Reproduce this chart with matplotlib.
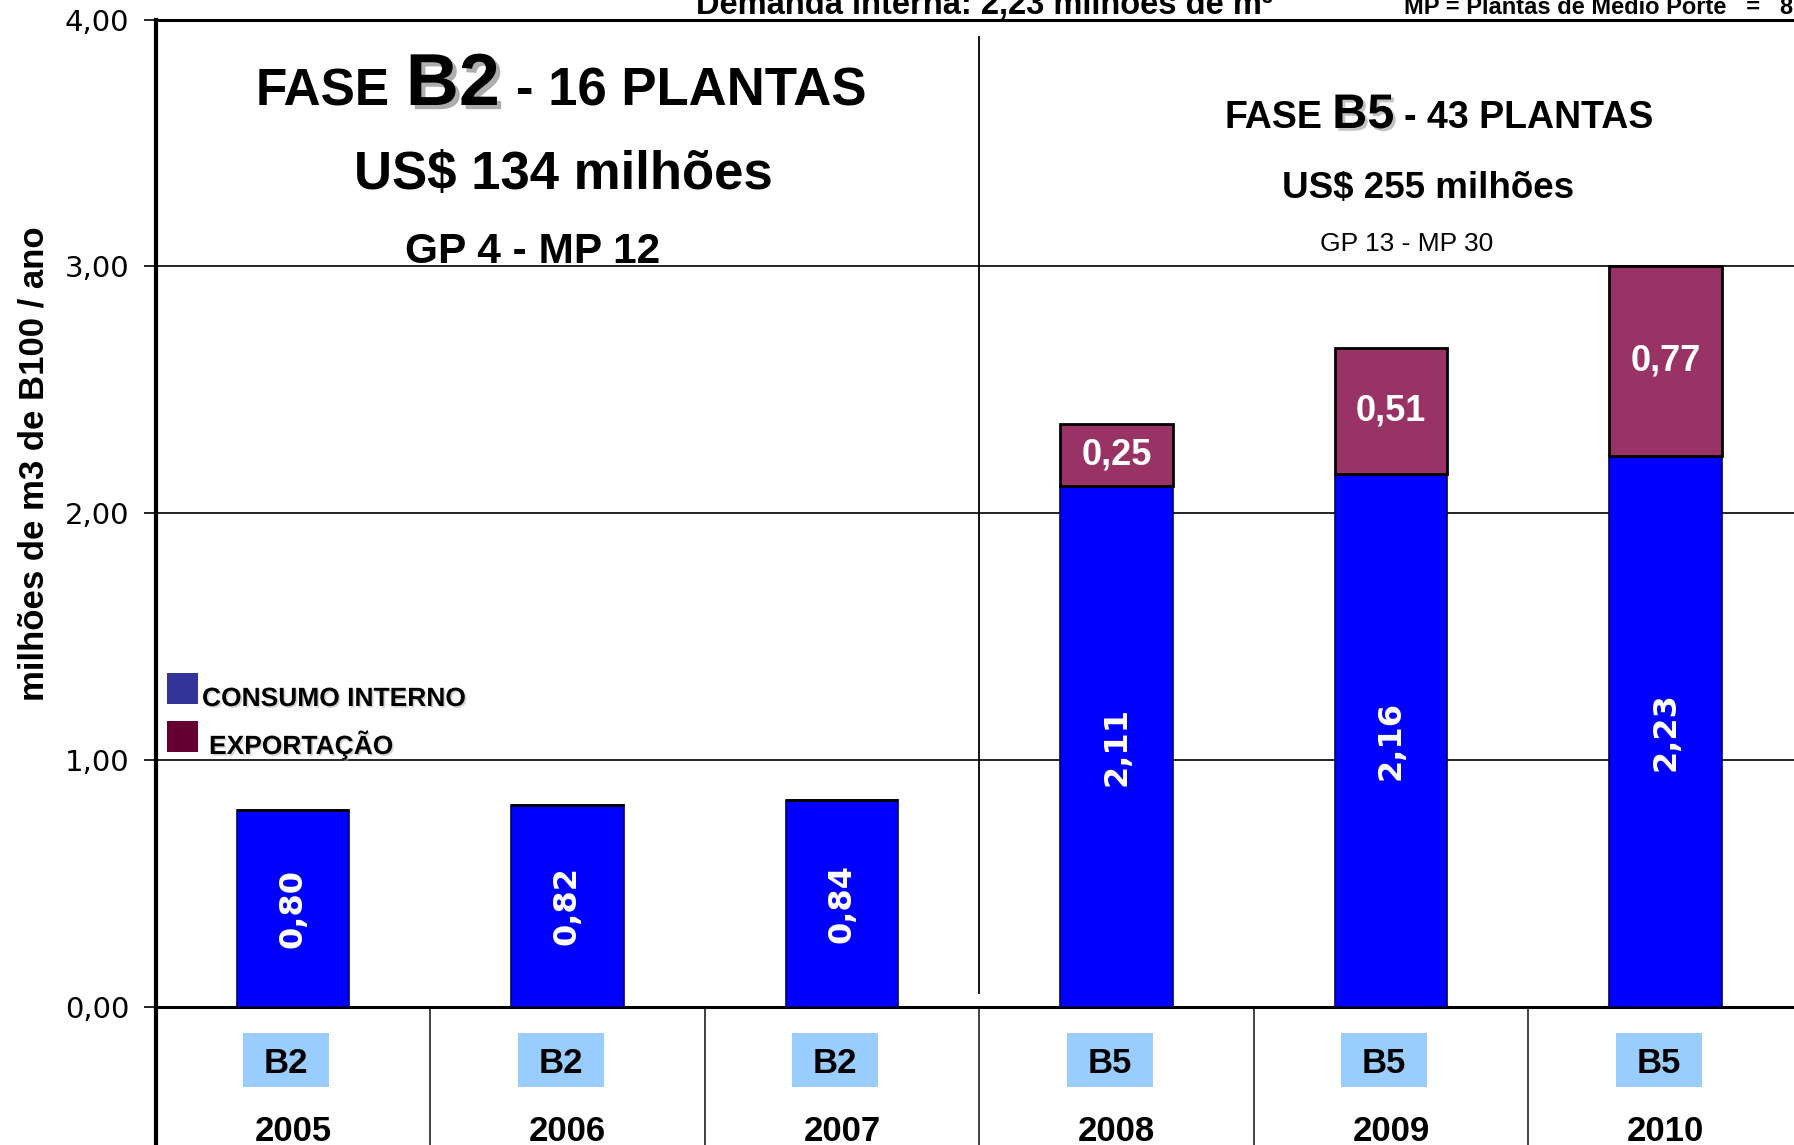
import matplotlib
matplotlib.use("Agg")
import matplotlib.pyplot as plt
import matplotlib.patheffects as pe
from matplotlib import font_manager
from matplotlib.patches import Rectangle
import matplotlib.transforms as mtransforms

# dados
anos = ["2005", "2006", "2007", "2008", "2009", "2010"]
fases = ["B2", "B2", "B2", "B5", "B5", "B5"]
consumo_interno = [0.80, 0.82, 0.84, 2.11, 2.16, 2.23]
exportacao = [0.0, 0.0, 0.0, 0.25, 0.51, 0.77]
y_ticks = [0.0, 1.0, 2.0, 3.0, 4.0]

W, H = 1794, 1145
DPI = 100

nomes = {f.name for f in font_manager.fontManager.ttflist}
BASE = "Liberation Sans"
NARROW = "Liberation Sans Narrow" if "Liberation Sans Narrow" in nomes else BASE

plt.rcParams["font.family"] = [BASE, "DejaVu Sans"]

fig = plt.figure(figsize=(W / DPI, H / DPI), dpi=DPI)
fig.patch.set_facecolor("white")

# eixo: x=0 em 155.6 px, y=0 em 1007 px, y=4 em 19.5 px
left = 155.6 / W
bottom = (H - 1007) / H
top = (H - 19.5) / H
ax = fig.add_axes([left, bottom, 1803 / W - left, top - bottom])

x = list(range(len(anos)))
larg = 0.41
ax.bar(x, consumo_interno, width=larg, color="#0000FF", edgecolor="#000066",
       linewidth=1.2, zorder=3)
ax.bar(x, exportacao, width=larg, bottom=consumo_interno, color="#993366",
       edgecolor="black", linewidth=2, zorder=3)

ax.set_xlim(-0.5, len(anos) - 0.5)
ax.set_ylim(0, 4)
ax.set_yticks(y_ticks)
ax.set_yticklabels([f"{v:.2f}".replace(".", ",") for v in y_ticks],
                   fontsize=21, family="DejaVu Sans")
ax.tick_params(axis="y", length=9, width=1.2, pad=10, direction="out")
ax.yaxis.grid(True, color="black", linewidth=1.2, zorder=0)
ax.set_axisbelow(True)

# marcas entre categorias, descendo até o fim da figura
ax.set_xticks([i - 0.5 for i in range(len(anos) + 1)])
ax.set_xticklabels([])
ax.tick_params(axis="x", length=100, width=1.2, direction="out", color="#222222")

ax.spines["right"].set_visible(False)
ax.spines["left"].set_linewidth(3)
ax.spines["bottom"].set_linewidth(2.2)
ax.spines["top"].set_linewidth(2.2)
ax.spines["left"].set_bounds(-0.6, 4)
for s in ax.spines.values():
    s.set_clip_on(False)

ax.set_ylabel("milhões de m3 de B100 / ano", fontsize=25, fontweight="bold",
              family=NARROW)
ax.yaxis.set_label_coords(-0.064, 0.55)

# divisória entre fases
ax.axvline(2.5, ymin=0.014, ymax=0.982, color="black", linewidth=1.3, zorder=2)

# rótulos das barras
for i in x:
    c = consumo_interno[i]
    ax.text(i, c / 2, f"{c:.2f}".replace(".", ","), rotation=90, ha="center",
            va="center", color="white", fontsize=23, fontweight="bold",
            family="DejaVu Sans", zorder=4)
    e = exportacao[i]
    if e > 0:
        ax.text(i, c + e / 2, f"{e:.2f}".replace(".", ","), ha="center",
                va="center", color="white", fontsize=26, fontweight="bold",
                family=NARROW, zorder=4)

# rótulos do eixo x (fase + ano)
trans = mtransforms.blended_transform_factory(ax.transData, ax.transAxes)
ppx = (top - bottom) * H  # pixels por unidade de eixo
box_w = 86 / ((1803 - 155.6) / len(anos))
for i in x:
    ax.add_patch(Rectangle((i - 0.025 - box_w / 2, -80 / ppx), box_w, 54 / ppx,
                           transform=trans, facecolor="#99CCFF", edgecolor="none",
                           clip_on=False))
    ax.text(i - 0.025, -66 / ppx, fases[i], transform=trans, ha="center",
            va="baseline", fontsize=25, fontweight="bold", clip_on=False)
    ax.text(i, -134 / ppx, anos[i], transform=trans, ha="center",
            va="baseline", fontsize=25, fontweight="bold", clip_on=False)


def fpos(px, py):
    return px / W, 1 - py / H


sombra = [pe.SimplePatchShadow(offset=(3, -3), shadow_rgbFace="#999999", alpha=0.8),
          pe.Normal()]
sombra_b5 = [pe.SimplePatchShadow(offset=(2, -2), shadow_rgbFace="#aaaaaa", alpha=0.7),
             pe.Normal()]
sombra_leve = [pe.SimplePatchShadow(offset=(1.2, -1.2), shadow_rgbFace="#aaaaaa",
                                    alpha=0.5), pe.Normal()]

renderer = fig.canvas.get_renderer()


def titulo(cx, base, partes, gap):
    objs = []
    for txt, size, fam, efeito in partes:
        t = fig.text(0, 0, txt, fontsize=size, fontweight="bold", family=fam,
                     ha="left", va="baseline", path_effects=efeito)
        objs.append(t)
    larguras = [o.get_window_extent(renderer).width for o in objs]
    total = sum(larguras) + gap * (len(objs) - 1)
    xx = cx - total / 2
    for o, w in zip(objs, larguras):
        o.set_position(fpos(xx, base))
        xx += w + gap


titulo(561, 105, [("FASE", 37, NARROW, None), ("B2", 53, NARROW, sombra),
                  ("- 16 PLANTAS", 38, NARROW, None)], 16)
titulo(1439, 128, [("FASE", 27, BASE, None), ("B5", 35, BASE, sombra_b5),
                   ("- 43 PLANTAS", 27, BASE, None)], 10)

fig.text(*fpos(563, 189), "US$ 134 milhões", fontsize=38, fontweight="bold",
         family=NARROW, ha="center", va="baseline")
fig.text(*fpos(1428, 198), "US$ 255 milhões", fontsize=26.5, fontweight="bold",
         family=BASE, ha="center", va="baseline")
fig.text(*fpos(533, 263), "GP 4 - MP 12", fontsize=30.5, fontweight="bold",
         family=NARROW, ha="center", va="baseline")
fig.text(*fpos(1407, 251), "GP 13 - MP 30", fontsize=19, family=BASE,
         ha="center", va="baseline")

# textos cortados no topo
fig.text(*fpos(696, 14), "Demanda interna: 2,23 milhões de m³", fontsize=23.5,
         fontweight="bold", family=NARROW, ha="left", va="baseline")
fig.text(*fpos(1404, 14), "MP = Plantas de Médio Porte   =   8", fontsize=17,
         fontweight="bold", family=NARROW, ha="left", va="baseline")

# legenda
leg = [("CONSUMO INTERNO", "#333399", 673, 202, 706),
       ("EXPORTAÇÃO", "#660033", 721, 209, 754)]
for nome, cor, ytop, xt, yb in leg:
    x0, y0 = fpos(167, ytop + 31)
    fig.patches.append(Rectangle((x0, y0), 31 / W, 31 / H, transform=fig.transFigure,
                                 facecolor=cor, edgecolor="none", figure=fig))
    fig.text(*fpos(xt, yb), nome, fontsize=19, fontweight="bold", family=BASE,
             ha="left", va="baseline", path_effects=sombra_leve)

fig.savefig("out.png", dpi=DPI)
